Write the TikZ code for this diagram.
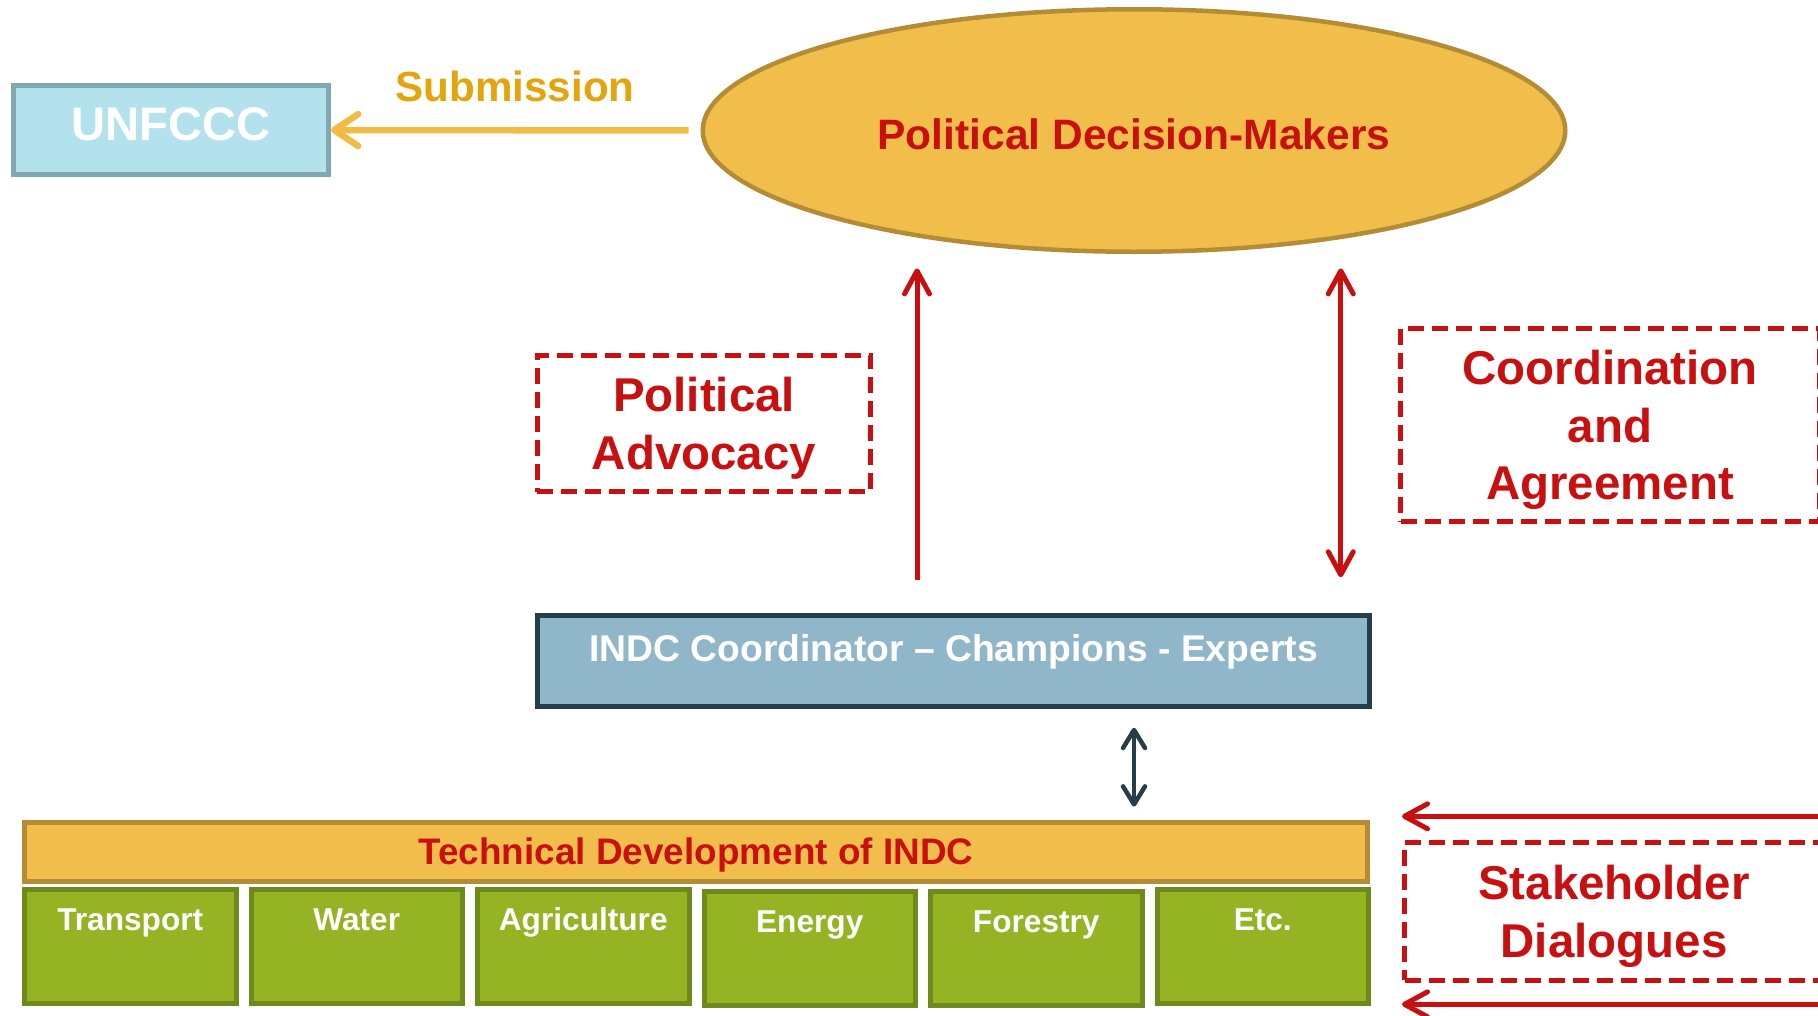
\documentclass[tikz,border=0pt]{standalone}
\usepackage{fontspec}
\setmainfont{Liberation Sans}
\usetikzlibrary{arrows.meta,positioning,shapes.geometric}

\definecolor{unfcccfill}{HTML}{B4E2EC}
\definecolor{unfcccline}{HTML}{80A8B0}
\definecolor{subtext}{HTML}{E3A40C}
\definecolor{subline}{HTML}{F2BC44}
\definecolor{pdmfill}{HTML}{F2BE4B}
\definecolor{pdmline}{HTML}{B38C35}
\definecolor{redtxt}{HTML}{C91010}
\definecolor{indcfill}{HTML}{8FB7C9}
\definecolor{indcline}{HTML}{253E4C}
\definecolor{greenfill}{HTML}{95B322}
\definecolor{greenline}{HTML}{6E8A1A}

\begin{document}
\begin{tikzpicture}[x=0.1mm, y=-0.1mm,
            unfcccblock/.style={draw=unfcccline, fill=unfcccfill, line width=0.5mm, minimum width=31.5mm, minimum height=8.9mm, text depth=1.1mm, text=white, font=\fontsize{13.4}{16}\selectfont\bfseries},
            pdmblock/.style={ellipse, draw=pdmline, fill=pdmfill, line width=0.45mm, minimum width=86.25mm, minimum height=24.25mm, inner sep=0pt, text height=3.8mm, text=redtxt, font=\fontsize{12.1}{14.5}\selectfont\bfseries},
            dashblock/.style={draw=redtxt, line width=0.5mm, dash pattern=on 1.6mm off 0.8mm, text depth=0pt, text=redtxt, align=center, font=\fontsize{13.5}{16.4}\selectfont\bfseries},
            indcblock/.style={draw=indcline, fill=indcfill, line width=0.5mm, minimum width=83.15mm, minimum height=9.05mm, text height=3mm, text depth=3mm, text=white, font=\fontsize{10.6}{12.7}\selectfont\bfseries},
            techblock/.style={draw=pdmline, fill=pdmfill, line width=0.5mm, minimum width=134.3mm, minimum height=5.9mm, inner sep=0pt, text depth=0pt, text=redtxt, font=\fontsize{10.5}{12.6}\selectfont\bfseries},
            sector/.style={draw=greenline, fill=greenfill, line width=0.5mm, minimum width=21.15mm, minimum height=11.35mm, inner sep=0pt, text height=2.6mm, text depth=5.8mm, text=white, font=\fontsize{9}{10.8}\selectfont\bfseries},
            sublabel/.style={text=subtext, font=\fontsize{12}{14.4}\selectfont\bfseries},
            subarrow/.style={draw=subline, line width=0.65mm, -{Straight Barb[length=2.4mm, width=3.2mm, round]}},
            redarrow/.style={draw=redtxt, line width=0.5mm, -{Straight Barb[length=2.3mm, width=2.5mm, round]}},
            redboth/.style={draw=redtxt, line width=0.5mm, {Straight Barb[length=2.3mm, width=2.5mm, round]}-{Straight Barb[length=2.3mm, width=2.5mm, round]}},
            darkboth/.style={draw=indcline, line width=0.45mm, {Straight Barb[length=1.8mm, width=2.2mm, round]}-{Straight Barb[length=1.8mm, width=2.2mm, round]}},
            node distance=1mm
        ]
        \useasboundingbox (0,0) rectangle (1818,1015);

        % Top level
        \node[unfcccblock] (unfccc) at (171,130) {UNFCCC};
        \node[pdmblock] (pdm) at (1134,130.5) {Political Decision-Makers};
        \node[sublabel] (sub) at (515,86) {Submission};

        % Red dashed labels
        \node[dashblock, minimum width=33.35mm, minimum height=13.65mm] (advocacy) at (704,423.5) {Political\\Advocacy};
        \node[dashblock, minimum width=41.9mm, minimum height=19.35mm] (coord) at (1610,425) {Coordination\\and\\Agreement};
        \node[dashblock, minimum width=41.9mm, minimum height=13.8mm] (stake) at (1614,911.3) {Stakeholder\\Dialogues};

        % Coordinator and technical work
        \node[indcblock] (indc) at (953.5,661) {INDC Coordinator – Champions - Experts};
        \node[techblock] (tech) at (696,851.6) {Technical Development of INDC};

        % Sectors
        \node[sector, anchor=north west] (transport) at ([yshift=-0.35mm]tech.south west) {Transport};
        \node[sector, right=of transport] (water) {Water};
        \node[sector, right=of water] (agri) {Agriculture};
        \node[sector, right=of agri, yshift=-0.2mm] (energy) {Energy};
        \node[sector, right=of energy] (forestry) {Forestry};
        \node[sector, right=of forestry, yshift=0.2mm] (etc) {Etc.};

        % Arrows
        \draw[subarrow, shorten <=1.2mm] (pdm.west) -- (unfccc.east);
        \coordinate (advfoot) at ([xshift=-3.65mm]indc.north);
        \coordinate (coordfoot) at ([xshift=-3.1mm]indc.north east);
        \draw[redarrow, shorten <=3.3mm, shorten >=1.44mm] (advfoot) -- (advfoot |- pdm.south);
        \draw[redboth, shorten <=3.6mm, shorten >=1.44mm] (coordfoot) -- (coordfoot |- pdm.south);
        \draw[darkboth, shorten <=1.9mm, shorten >=1.3mm] (indc.south -| pdm.center) -- (tech.north -| pdm.center);
        \draw[redarrow] ([yshift=2.35mm]stake.north east) -- ([yshift=2.35mm]stake.north west);
        \draw[redarrow] ([yshift=-2.15mm]stake.south east) -- ([yshift=-2.15mm]stake.south west);
    \end{tikzpicture}
\end{document}
